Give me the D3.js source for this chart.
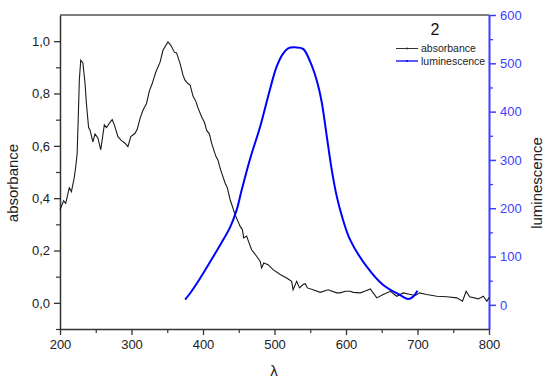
<!DOCTYPE html>
<meta charset="utf-8">
<head>
	<script type="text/javascript" src="https://cdn.jsdelivr.net/npm/d3@7"></script>
	<style>
		body { margin: 0; background: #fff; }
		text { font-family: "Liberation Sans", Arial, sans-serif; }
	</style>
</head>
<body>
	<svg id="chart" width="550" height="387"></svg>
</body>
<script type="text/javascript">
	// absorbance spectrum (wavelength, value)
	var absWl = [200,205,208,213,216,220,222,224,226,227,229,232,235,237,240,242,246,249,253,257,262,265,270,273,276,281,286,291,295,299,305,308,312,316,321,325,329,334,340,344,351,355,360,363,368,372,375,379,382,386,390,393,398,402,405,409,412,418,421,424,431,434,438,445,452,455,457,461,464,468,475,480,482,485,491,498,508,517,524,526,531,535,540,543,546,554,564,575,587,592,599,606,610,620,627,634,643,652,662,671,680,690,697,703,713,727,741,755,763,768,773,785,792,797,800];
	var absVal = [0.355,0.39,0.38,0.44,0.425,0.48,0.52,0.57,0.75,0.85,0.927,0.917,0.84,0.76,0.67,0.66,0.615,0.645,0.63,0.585,0.68,0.67,0.69,0.70,0.68,0.635,0.62,0.61,0.597,0.635,0.648,0.663,0.705,0.736,0.762,0.81,0.838,0.882,0.92,0.965,0.997,0.984,0.958,0.955,0.914,0.87,0.85,0.838,0.832,0.79,0.77,0.745,0.711,0.69,0.66,0.645,0.61,0.56,0.545,0.514,0.457,0.44,0.394,0.336,0.292,0.28,0.248,0.255,0.232,0.203,0.178,0.158,0.133,0.152,0.146,0.127,0.108,0.095,0.082,0.05,0.082,0.057,0.07,0.073,0.057,0.05,0.04,0.05,0.038,0.038,0.044,0.044,0.04,0.038,0.045,0.053,0.019,0.032,0.044,0.025,0.038,0.032,0.028,0.038,0.032,0.025,0.023,0.019,0.006,0.044,0.023,0.015,0.025,0.006,0.02];

	// luminescence spectrum
	var lumWl = [375,382,396,410,424,438,447,454,466,480,494,503,512,519,529,540,550,559,566,573,580,587,595,606,629,652,676,687,694,700];
	var lumVal = [11,24,55,89,124,161,196,237,303,369,448,493,520,531,533,530,503,465,420,350,280,225,180,134,79,41,20,12,17,29];

	var xTicks = [200,300,400,500,600,700,800];
	var yLeftTicks = [0,0.2,0.4,0.6,0.8,1.0];
	var yRightTicks = [0,100,200,300,400,500,600];
	var seriesNames = ["absorbance","luminescence"];

	var svg = d3.select('#chart');
	var pL = 60, pR = 489, pT = 15, pB = 329;
	var blue = "#0000ff", axisBlue = "#3d3dff", dark = "#333";

	var x = d3.scaleLinear().domain([200, 800]).range([pL, pR]);
	var yA = d3.scaleLinear().domain([-0.1, 1.1]).range([pB, pT]);
	var yL = d3.scaleLinear().domain([-50, 600]).range([pB, pT]);

	var fmtComma = function(d){ return d3.format(".1f")(d).replace(".", ","); };

	// top border
	svg.append("line").attr("x1", pL).attr("x2", pR).attr("y1", pT).attr("y2", pT)
		.attr("stroke", "#555").attr("stroke-width", 1.5);

	// minor ticks
	var xMinor = d3.range(250, 800, 100);
	svg.append("g").attr("transform", "translate(0," + pB + ")")
		.call(d3.axisBottom(x).tickValues(xMinor).tickSize(4).tickFormat(""))
		.call(function(g){ g.select(".domain").remove(); g.selectAll("line").attr("stroke", dark).attr("stroke-width", 1.2); });
	svg.append("g").attr("transform", "translate(" + pL + ",0)")
		.call(d3.axisLeft(yA).tickValues([-0.1,0.1,0.3,0.5,0.7,0.9]).tickSize(4).tickFormat(""))
		.call(function(g){ g.select(".domain").remove(); g.selectAll("line").attr("stroke", dark).attr("stroke-width", 1.2); });
	svg.append("g").attr("transform", "translate(" + pR + ",0)")
		.call(d3.axisRight(yL).tickValues(d3.range(50, 600, 100)).tickSize(4).tickFormat(""))
		.call(function(g){ g.select(".domain").remove(); g.selectAll("line").attr("stroke", axisBlue).attr("stroke-width", 1.3); });

	// main axes
	var gx = svg.append("g").attr("transform", "translate(0," + pB + ")")
		.call(d3.axisBottom(x).tickValues(xTicks).tickSize(6).tickSizeOuter(0).tickPadding(5));
	gx.select(".domain").attr("stroke", dark).attr("stroke-width", 1.5);
	gx.selectAll("line").attr("stroke", dark).attr("stroke-width", 1.3);
	gx.selectAll("text").attr("font-size", 13).attr("fill", "#222").style("font-family", "Liberation Sans, Arial");

	var gyl = svg.append("g").attr("transform", "translate(" + pL + ",0)")
		.call(d3.axisLeft(yA).tickValues(yLeftTicks).tickSize(6).tickSizeOuter(0).tickPadding(4).tickFormat(fmtComma));
	gyl.select(".domain").attr("stroke", dark).attr("stroke-width", 1.5);
	gyl.selectAll("line").attr("stroke", dark).attr("stroke-width", 1.3);
	gyl.selectAll("text").attr("font-size", 13).attr("fill", "#222").style("font-family", "Liberation Sans, Arial");

	var gyr = svg.append("g").attr("transform", "translate(" + pR + ",0)")
		.call(d3.axisRight(yL).tickValues(yRightTicks).tickSize(7).tickSizeOuter(0).tickPadding(4));
	gyr.select(".domain").attr("stroke", axisBlue).attr("stroke-width", 2);
	gyr.selectAll("line").attr("stroke", axisBlue).attr("stroke-width", 1.5);
	gyr.selectAll("text").attr("font-size", 13).attr("fill", axisBlue).style("font-family", "Liberation Sans, Arial");

	// curves
	var absData = absWl.map(function(w, i){ return [w, absVal[i]]; });
	var lumData = lumWl.map(function(w, i){ return [w, lumVal[i]]; });

	var absLine = d3.line().x(function(d){ return x(d[0]); }).y(function(d){ return yA(d[1]); });
	var lumLine = d3.line().curve(d3.curveCatmullRom).x(function(d){ return x(d[0]); }).y(function(d){ return yL(d[1]); });

	svg.append("path").attr("d", absLine(absData)).attr("fill", "none")
		.attr("stroke", "#1a1a1a").attr("stroke-width", 1.1);
	svg.append("path").attr("d", lumLine(lumData)).attr("fill", "none")
		.attr("stroke", blue).attr("stroke-width", 2);

	// axis titles
	svg.append("text").attr("transform", "translate(18,183) rotate(-90)")
		.attr("text-anchor", "middle").attr("font-size", 15).attr("fill", "#222").text("absorbance");
	svg.append("text").attr("transform", "translate(542,183) rotate(-90)")
		.attr("text-anchor", "middle").attr("font-size", 15).attr("fill", "#222").text("luminescence");
	svg.append("text").attr("x", 274).attr("y", 376).attr("text-anchor", "middle")
		.attr("font-size", 15).attr("fill", "#222").text("λ");

	// panel label + legend
	svg.append("text").attr("x", 435).attr("y", 35).attr("text-anchor", "middle")
		.attr("font-size", 16).attr("fill", "#111").text("2");
	var legColors = ["#333", blue];
	seriesNames.forEach(function(name, i){
		var ly = 48.5 + i * 12.5;
		svg.append("line").attr("x1", 396).attr("x2", 418).attr("y1", ly).attr("y2", ly)
			.attr("stroke", legColors[i]).attr("stroke-width", i ? 1.3 : 1);
		svg.append("circle").attr("cx", 407).attr("cy", ly).attr("r", 1).attr("fill", legColors[i]);
		svg.append("text").attr("x", 421).attr("y", ly + 3.5).attr("font-size", 10.5)
			.attr("fill", "#222").text(name);
	});
</script>
